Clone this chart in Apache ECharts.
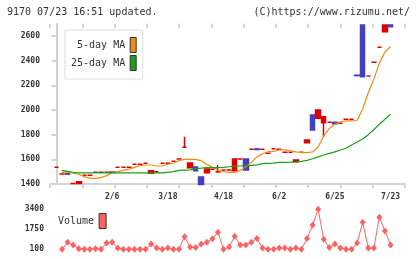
<!DOCTYPE html>
<html><head><meta charset="utf-8">
<script src="https://cdn.jsdelivr.net/npm/echarts@6/dist/echarts.min.js"></script>
<style>html,body{margin:0;padding:0;background:#fff}#c{width:420px;height:259px}</style>
</head><body><div id="c"></div>
<script>
// ---- data ----
const dateLabels = ['2/6', '3/18', '4/18', '6/2', '6/25', '7/23'];
const dateLabelIdx = [10, 20, 30, 40, 50, 60];
const priceTicks = [1400, 1600, 1800, 2000, 2200, 2400, 2600];
const volumeTicks = [100, 1750, 3400];

const openP  = [1535,1481,1483,1405,1405,1470,1470,1495,1495,1495,1497,1535,1535,1535,1560,1560,1568,1487,1500,1568,1568,1584,1603,1697,1532,1538,1457,1492,1519,1497,1513,1513,1508,1603,1603,1681,1683,1681,1649,1686,1681,1657,1657,1581,1657,1735,1960,1933,1897,1900,1900,1892,1925,1925,2282,2689,2276,2387,2508,2635,2689];
const closeP = [1535,1481,1480,1405,1419,1470,1470,1495,1495,1495,1494,1535,1535,1535,1560,1560,1568,1508,1500,1568,1568,1584,1603,1697,1570,1508,1395,1522,1519,1497,1513,1513,1603,1603,1513,1681,1680,1681,1649,1686,1681,1657,1657,1595,1657,1757,1838,2000,1946,1900,1889,1892,1925,1925,2279,2270,2276,2387,2508,2689,2676];
const lowP   = [1535,1481,1480,1405,1405,1470,1470,1495,1495,1495,1494,1535,1535,1535,1560,1560,1568,1487,1500,1568,1568,1584,1603,1697,1532,1508,1395,1492,1519,1497,1513,1513,1508,1603,1513,1681,1680,1681,1649,1686,1681,1657,1657,1581,1657,1735,1838,1933,1779,1900,1889,1892,1925,1925,2279,2270,2276,2387,2508,2635,2676];
const highP  = [1535,1481,1483,1405,1419,1470,1470,1495,1495,1495,1497,1535,1535,1535,1560,1560,1568,1508,1500,1568,1568,1584,1603,1784,1570,1538,1457,1522,1519,1555,1513,1513,1603,1603,1603,1681,1692,1681,1649,1686,1681,1657,1657,1595,1657,1757,1960,2000,1946,1900,1900,1892,1925,1925,2282,2689,2276,2387,2508,2689,2689];
const ma5  = [null,1495,1497,1487,1479,1460,1446,1446,1452,1468,1492,1500,1510,1520,1535,1548,1554,1554,1546,1546,1560,1568,1590,1600,1600,1600,1589,1560,1535,1515,1500,1494,1494,1510,1540,1575,1620,1645,1662,1665,1676,1676,1668,1660,1654,1654,1660,1700,1790,1850,1885,1905,1912,1912,1915,2010,2140,2250,2380,2470,2515];
const ma25 = [null,1511,1503,1495,1490,1490,1490,1490,1490,1490,1490,1490,1490,1490,1490,1490,1490,1490,1490,1490,1495,1500,1510,1513,1515,1525,1528,1532,1532,1533,1535,1540,1545,1546,1550,1551,1555,1565,1568,1570,1575,1576,1577,1580,1583,1592,1605,1620,1635,1648,1660,1676,1690,1716,1740,1765,1800,1840,1885,1925,1965];
const volume = [null,100,680,455,150,100,100,150,100,620,680,200,100,100,100,100,100,540,200,100,200,100,100,1140,290,240,540,680,975,1500,100,290,1170,455,455,680,1000,200,100,100,200,200,100,200,100,1000,2100,3400,925,240,540,200,100,100,620,2330,200,200,2740,1610,455];

// ---- build ----
const MONO = '"DejaVu Sans Mono", "Liberation Mono", monospace';
const UP = '#dd0000', DOWN = '#4040c0';
const X_MIN = -1.1676, X_MAX = 62.6;
const xTicks = [];
for (let k = 0; k <= 11; k++) xTicks.push(Math.min(X_MAX, Math.max(X_MIN, X_MIN + k * (X_MAX - X_MIN) / 11)));

const candles = openP.map((o, i) => {
  const c = closeP[i];
  const col = c < o ? DOWN : UP;
  return { value: [i, o, c, lowP[i], highP[i]],
    itemStyle: { color: col, color0: col, borderColor: col, borderColor0: col } };
});
const pairs = arr => arr.map((v, i) => [i, v]);
const plain = v => String(v);

const AXIS_COLOR = '#d4d4d4';
const chart = echarts.init(document.getElementById('c'));
chart.setOption({
  animation: false,
  backgroundColor: '#fff',
  graphic: [
    { type: 'text', x: 7, y: 7, style: { text: '9170 07/23 16:51 updated.', font: '10px ' + MONO, fill: '#333', align: 'left', verticalAlign: 'top' } },
    { type: 'text', x: 410, y: 7, style: { text: '(C)https://www.rizumu.net/', font: '10px ' + MONO, fill: '#333', align: 'right', verticalAlign: 'top' } }
  ],
  legend: [
    { data: ['5-day MA', '25-day MA'], orient: 'vertical', left: 65, top: 30, align: 'right',
      icon: 'rect', itemWidth: 6, itemHeight: 15, itemGap: 2, padding: [7, 6, 8, 6],
      borderColor: '#ddd', borderWidth: 1, backgroundColor: '#fff', selectedMode: false,
      itemStyle: { borderColor: '#333', borderWidth: 1 },
      textStyle: { fontFamily: MONO, fontSize: 10, color: '#333' } },
    { data: ['Volume'], left: 58, top: 213, align: 'right', icon: 'rect',
      itemWidth: 7, itemHeight: 15, padding: 0, selectedMode: false,
      itemStyle: { borderColor: '#333', borderWidth: 1 },
      textStyle: { fontFamily: MONO, fontSize: 10, color: '#333' } }
  ],
  grid: [
    { left: 50, right: 15, top: 23.67, height: 160.33 },
    { left: 50, right: 15, top: 209.3, height: 40 }
  ],
  xAxis: [
    { type: 'value', gridIndex: 0, min: X_MIN, max: X_MAX,
      axisLine: { show: true, lineStyle: { color: AXIS_COLOR, width: 2 } },
      axisTick: { show: true, customValues: xTicks, length: 4, lineStyle: { color: AXIS_COLOR, width: 2 } },
      axisLabel: { customValues: dateLabelIdx, margin: 9, fontFamily: MONO, fontSize: 8, fontWeight: 'bold', color: '#333',
        formatter: v => dateLabels[dateLabelIdx.indexOf(Math.round(v))] || '' },
      splitLine: { show: false } },
    { type: 'value', gridIndex: 0, min: X_MIN, max: X_MAX,
      axisLine: { show: false },
      axisTick: { show: true, inside: true, customValues: xTicks, length: 4, lineStyle: { color: AXIS_COLOR, width: 2 } },
      axisLabel: { show: false }, splitLine: { show: false } },
    { type: 'value', gridIndex: 1, min: X_MIN, max: X_MAX, show: false }
  ],
  yAxis: [
    { type: 'value', gridIndex: 0, min: 1400, max: 2700,
      axisLine: { show: true, lineStyle: { color: AXIS_COLOR, width: 2 } },
      axisTick: { show: true, customValues: priceTicks, length: 5, lineStyle: { color: AXIS_COLOR, width: 2 } },
      axisLabel: { customValues: priceTicks, formatter: plain, margin: 10, fontFamily: MONO, fontSize: 8, fontWeight: 'bold', color: '#333' },
      splitLine: { show: false } },
    { type: 'value', gridIndex: 0, min: 1400, max: 2700,
      axisLine: { show: false },
      axisTick: { show: true, inside: true, customValues: priceTicks, length: 3, lineStyle: { color: AXIS_COLOR, width: 2 } },
      axisLabel: { show: false }, splitLine: { show: false } },
    { type: 'value', gridIndex: 1, min: 100, max: 3400,
      axisLine: { show: false }, axisTick: { show: false },
      axisLabel: { customValues: volumeTicks, formatter: plain, margin: 6, fontFamily: MONO, fontSize: 8, fontWeight: 'bold', color: '#333' },
      splitLine: { show: false } }
  ],
  series: [
    { type: 'candlestick', name: 'price', xAxisIndex: 0, yAxisIndex: 0, barWidth: 5, clip: false,
      itemStyle: { borderWidth: 1.5 },
      encode: { x: 0, y: [1, 2, 3, 4] }, data: candles },
    { type: 'line', name: '5-day MA', xAxisIndex: 0, yAxisIndex: 0, data: pairs(ma5),
      showSymbol: false, symbol: 'none', color: '#f08c10', lineStyle: { width: 1.2, color: '#f08c10' }, z: 3 },
    { type: 'line', name: '25-day MA', xAxisIndex: 0, yAxisIndex: 0, data: pairs(ma25),
      showSymbol: false, symbol: 'none', color: '#18a018', lineStyle: { width: 1.2, color: '#18a018' }, z: 3 },
    { type: 'line', name: 'Volume', xAxisIndex: 2, yAxisIndex: 2, data: pairs(volume), clip: false,
      symbol: 'diamond', symbolSize: [6, 7], color: '#ff6262',
      itemStyle: { color: '#ff6262' }, lineStyle: { width: 1, color: '#ff6262' } }
  ]
});
</script></body></html>
